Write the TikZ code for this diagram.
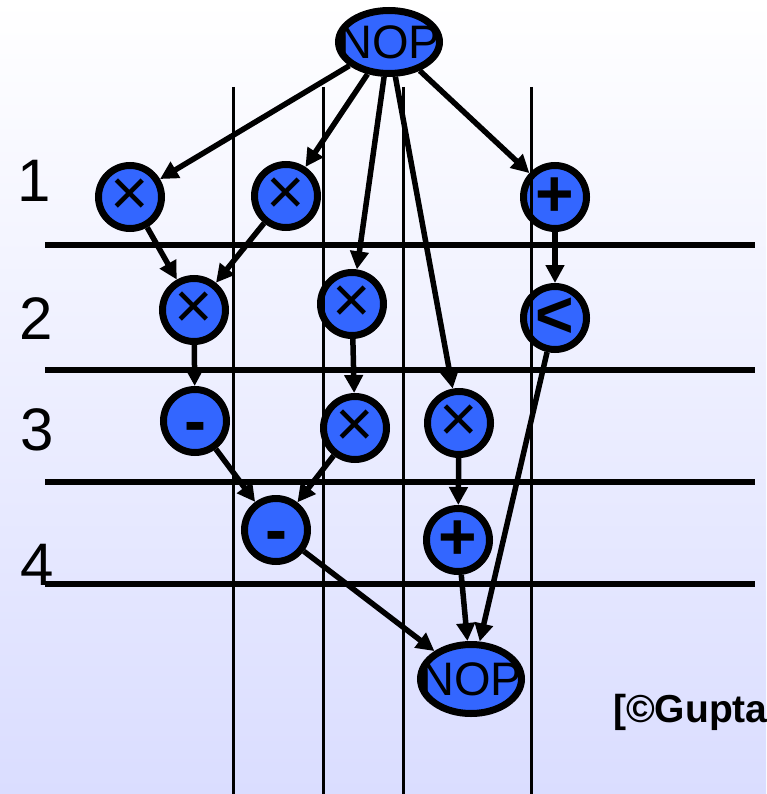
\documentclass[tikz,border=0pt]{standalone}
\usepackage{fontspec}
\setmainfont{Liberation Sans}
\usetikzlibrary{shapes.geometric,arrows.meta}
\definecolor{opblue}{RGB}{51,102,255}
\definecolor{bglav}{RGB}{218,221,255}
\newcommand{\minussign}{\raisebox{-22pt}[0pt][0pt]{-}}
\begin{document}
\begin{tikzpicture}[x=1pt,y=-1pt,
    op/.style={draw,circle,line width=7pt,fill=opblue,minimum size=63pt,inner sep=0pt},
    mulop/.style={op,font=\fontsize{66}{66}\selectfont},
    binop/.style={op,font=\bfseries\fontsize{66}{66}\selectfont},
    nop/.style={draw,ellipse,line width=7pt,fill=opblue,minimum width=101pt,minimum height=63pt,inner sep=0pt,font=\fontsize{47}{47}\selectfont},
    dep/.style={-{Triangle[length=18pt,width=18pt]},line width=5.5pt},
    csline/.style={line width=5.5pt},
    tsline/.style={line width=3pt},
    steplabel/.style={font=\fontsize{60}{60}\selectfont,inner sep=0pt}]
    \useasboundingbox (0,0) rectangle (766,794);
    \shade[top color=white,bottom color=bglav] (0,0) rectangle (766,794);
    % operation nodes
    \node[nop] (nopT) at (389,42) {\makebox[0pt]{NOP}};
    \node[mulop] (m1) at (130,197) {×};
    \node[mulop] (m2) at (286,196) {×};
    \node[binop] (a1) at (555,197) {+};
    \node[mulop] (m3) at (194,310) {×};
    \node[mulop] (m4) at (352,304) {×};
    \node[binop] (lt) at (555,318) {<};
    \node[binop] (s1) at (195,421) {\minussign};
    \node[mulop] (m5) at (355,428) {×};
    \node[mulop] (m6) at (459,423) {×};
    \node[binop] (s2) at (276,530) {\minussign};
    \node[binop] (a2) at (458,540) {+};
    \node[nop,minimum height=69pt] (nopB) at (471,679) {\makebox[0pt]{NOP}};
    % control steps and resources
    \draw[csline] (45,245) -- (755,245);
    \draw[csline] (45,370) -- (755,370);
    \draw[csline] (45,482) -- (755,482);
    \draw[csline] (45,584) -- (755,584);
    \draw[tsline] (233,87) -- (233,794);
    \draw[tsline] (323,87) -- (323,794);
    \draw[tsline] (403,87) -- (403,794);
    \draw[tsline] (531,87) -- (531,794);
    \node[steplabel] (c1) at (34,181) {1};
    \node[steplabel] (c2) at (36,319) {2};
    \node[steplabel] (c3) at (37,430) {3};
    \node[steplabel] (c4) at (37,565) {4};
    % dependences
    \draw[dep] (nopT) -- (m1);
    \draw[dep] (nopT) -- (m2);
    \draw[dep] (nopT) -- (m4);
    \draw[dep] (nopT) -- (m6);
    \draw[dep] (nopT) -- (a1);
    \draw[dep] (m1) -- (m3);
    \draw[dep] (m2) -- (m3);
    \draw[dep] (m3) -- (s1);
    \draw[dep] (m4) -- (m5);
    \draw[dep] (s1) -- (s2);
    \draw[dep] (m5) -- (s2);
    \draw[dep] (m6) -- (a2);
    \draw[dep] (a1) -- (lt);
    \draw[dep] (s2) -- (nopB);
    \draw[dep] (a2) -- (nopB);
    \draw[dep] (lt) -- (nopB);
    \node[anchor=base west,inner sep=0pt,font=\bfseries\fontsize{39}{39}\selectfont] (cite) at (613,722) {[©Gupta};
\end{tikzpicture}
\end{document}
